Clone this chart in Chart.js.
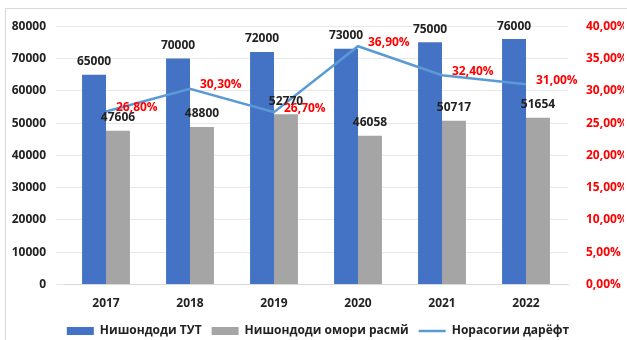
<!DOCTYPE html>
<html>
<head>
<meta charset="utf-8">
<script src="https://cdn.jsdelivr.net/npm/chart.js@4"></script>
<style>
  html, body { margin: 0; padding: 0; background: #fff; overflow: hidden; }
  #frame {
    position: absolute; left: 5px; top: 8px; width: 630px; height: 345px;
    border: 1px solid #d9d9d9; box-sizing: border-box;
  }
  #wrap { position: absolute; left: 0; top: 0; width: 622px; height: 340px; }
</style>
</head>
<body>
<div id="frame"><div id="wrap"><canvas id="chart"></canvas></div></div>
<script>
const years = ["2017", "2018", "2019", "2020", "2021", "2022"];
const tutValues = [65000, 70000, 72000, 73000, 75000, 76000];
const officialValues = [47606, 48800, 52770, 46058, 50717, 51654];
const gapPercent = [26.8, 30.3, 26.7, 36.9, 32.4, 31.0];
const leftTicks = [0, 10000, 20000, 30000, 40000, 50000, 60000, 70000, 80000];

const fontFamily = "'Open Sans', 'Liberation Sans', sans-serif";

// подписи значений над столбцами и у точек линии
const valueLabels = {
  id: "valueLabels",
  afterDatasetsDraw(chart) {
    const ctx = chart.ctx;
    ctx.save();
    chart.data.datasets.forEach((ds, i) => {
      const meta = chart.getDatasetMeta(i);
      meta.data.forEach((el, j) => {
        const v = ds.data[j];
        ctx.font = "bold 12px " + fontFamily;
        ctx.textBaseline = "middle";
        if (ds.type === "line") {
          ctx.fillStyle = "#ff0000";
          ctx.textAlign = "left";
          ctx.fillText(v.toFixed(2).replace(".", ",") + "%", el.x + 10, el.y - 4);
        } else {
          ctx.fillStyle = "#222";
          ctx.textAlign = "center";
          ctx.fillText(String(v), el.x, el.y - 13);
        }
      });
    });
    ctx.restore();
  },
};

new Chart(document.getElementById("chart"), {
  type: "bar",
  data: {
    labels: years,
    datasets: [
      {
        label: "Нишондоди ТУТ",
        data: tutValues,
        backgroundColor: "#4472c4",
        yAxisID: "y",
        order: 2,
        barPercentage: 1,
        categoryPercentage: 0.57,
      },
      {
        label: "Нишондоди омори расмй",
        data: officialValues,
        backgroundColor: "#a5a5a5",
        yAxisID: "y",
        order: 2,
        barPercentage: 1,
        categoryPercentage: 0.57,
      },
      {
        type: "line",
        label: "Норасогии дарёфт",
        data: gapPercent,
        borderColor: "#5b9bd5",
        backgroundColor: "#5b9bd5",
        borderWidth: 2.5,
        pointRadius: 0,
        tension: 0,
        yAxisID: "y1",
        order: 1,
      },
    ],
  },
  options: {
    responsive: true,
    maintainAspectRatio: false,
    animation: false,
    layout: { padding: { top: 6, left: 6, right: 4, bottom: 2 } },
    plugins: {
      tooltip: { enabled: false },
      legend: {
        position: "bottom",
        labels: {
          color: "#222",
          font: { family: fontFamily, weight: "bold", size: 12 },
          usePointStyle: true,
          pointStyleWidth: 27,
          boxHeight: 8,
          padding: 10,
          generateLabels(chart) {
            return chart.data.datasets.map((ds, i) => ({
              text: ds.label,
              fillStyle: ds.backgroundColor,
              strokeStyle: ds.type === "line" ? ds.borderColor : ds.backgroundColor,
              lineWidth: ds.type === "line" ? 2.5 : 0,
              pointStyle: ds.type === "line" ? "line" : "rect",
              datasetIndex: i,
              fontColor: "#222",
            }));
          },
        },
      },
    },
    scales: {
      x: {
        grid: { display: false },
        border: { color: "#d9d9d9" },
        ticks: { color: "#222", font: { family: fontFamily, weight: "bold", size: 12 }, padding: 4 },
      },
      y: {
        min: 0,
        max: 80000,
        afterBuildTicks(axis) {
          axis.ticks = leftTicks.map((v) => ({ value: v }));
        },
        afterFit(axis) { axis.width = 52; },
        grid: { color: "#e8e8e8" },
        border: { display: false },
        ticks: {
          color: "#222",
          font: { family: fontFamily, weight: "bold", size: 12 },
          padding: 10,
          callback: (v) => String(v),
        },
      },
      y1: {
        position: "right",
        min: 0,
        max: 40,
        afterFit(axis) { axis.width = 56; },
        grid: { display: false },
        border: { display: false },
        ticks: {
          stepSize: 5,
          color: "#ff0000",
          font: { family: fontFamily, weight: "bold", size: 12 },
          padding: 10,
          callback: (v) => v.toFixed(2).replace(".", ",") + "%",
        },
      },
    },
  },
  plugins: [valueLabels],
});
</script>
</body>
</html>
